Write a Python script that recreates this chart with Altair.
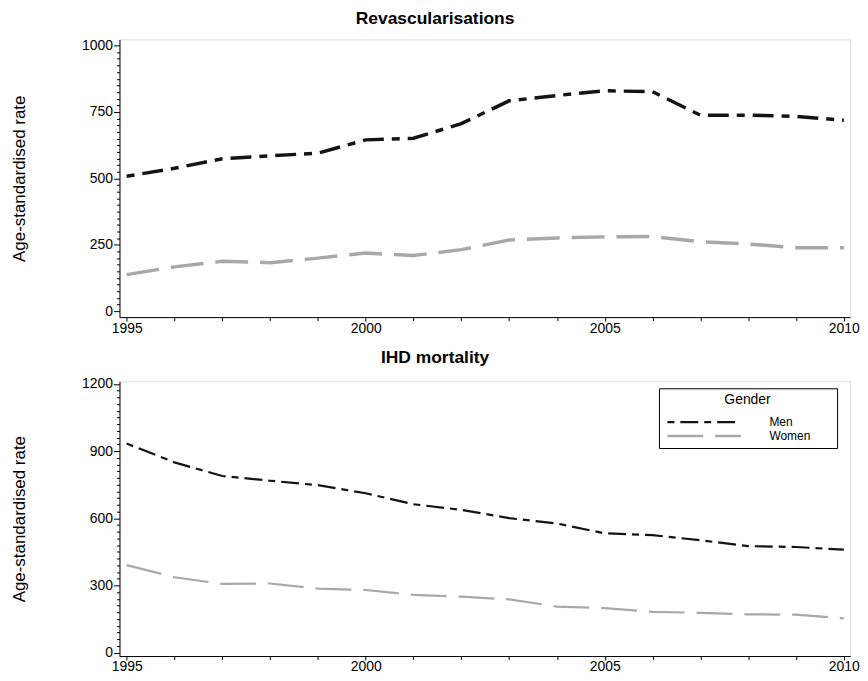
import altair as alt
import pandas as pd

years = list(range(1995, 2011))
rev_men = [508, 538, 574, 585, 595, 645, 651, 706, 792, 812, 830, 826, 738, 738, 733, 719]
rev_women = [138, 167, 188, 183, 200, 219, 210, 232, 268, 276, 280, 281, 262, 253, 239, 239]
ihd_men = [934, 850, 789, 768, 748, 712, 663, 638, 601, 577, 533, 525, 502, 476, 472, 460]
ihd_women = [391, 337, 307, 309, 286, 280, 258, 250, 238, 206, 199, 182, 178, 171, 170, 153]
# legend labels (blank padding widens the legend box like the original)
genders = ["\u00a0\u00a0Men", "Women\u00a0\u2800\u2800"]

FONT = "Liberation Sans"

def long_df(men, women):
    rows = []
    for y, m, w in zip(years, men, women):
        rows.append({"Year": y, "Rate": m, "Gender": genders[0]})
        rows.append({"Year": y, "Rate": w, "Gender": genders[1]})
    return pd.DataFrame(rows)

df_rev = long_df(rev_men, rev_women)
df_ihd = long_df(ihd_men, ihd_women)

x_axis = alt.Axis(
    values=years,
    labelExpr="datum.value % 5 == 0 ? datum.value : ''",
    tickSize={"condition": {"test": "datum.value % 5 === 0", "value": 4}, "value": 3.5},
    labelFlush=False, labelOverlap=False, grid=False,
    labelFont=FONT, labelFontSize=14, labelColor="black", labelPadding=0,
    domainColor="black", tickColor="black", title=None,
)

def y_axis(step, major, maxv):
    return alt.Axis(
        values=list(range(0, maxv + 1, step)),
        labelExpr=f"datum.value % {major} == 0 ? datum.value : ''",
        tickSize={"condition": {"test": f"datum.value % {major} === 0", "value": 6}, "value": 3},
        labelOverlap=False, grid=False,
        labelFont=FONT, labelFontSize=14, labelColor="black", labelPadding=1,
        domainColor="black", tickColor="black",
        title="Age-standardised rate", titleFont=FONT, titleFontSize=17,
        titleFontWeight="normal", titleColor="black", titlePadding=53,
    )

def panel(df, title, ydom, step, major, maxv, dashes, sw, legend, h):
    return alt.Chart(df, title=alt.Title(
        title, font=FONT, fontSize=17.5, fontWeight="bold", color="black",
        anchor="middle", frame="bounds", offset=11,
    )).mark_line(strokeWidth=sw, strokeCap="butt", strokeJoin="miter").encode(
        x=alt.X("Year:Q", scale=alt.Scale(domain=[1994.85, 2010.13], nice=False, zero=False), axis=x_axis),
        y=alt.Y("Rate:Q", scale=alt.Scale(domain=ydom, nice=False, zero=False), axis=y_axis(step, major, maxv)),
        color=alt.Color("Gender:N", scale=alt.Scale(domain=genders, range=["#141414", "#a8a8a8"]), legend=legend),
        strokeDash=alt.StrokeDash("Gender:N", scale=alt.Scale(domain=genders, range=dashes), legend=legend),
    ).properties(width=734, height=h)

leg = alt.Legend(
    title="Gender", orient="none", legendX=542, legendY=7, direction="vertical",
    symbolType="stroke", symbolSize=5476, symbolStrokeWidth=2.5, clipHeight=14,
    labelAlign="left", labelOffset=27, labelFont=FONT, labelFontSize=12, labelColor="black",
    titleFont=FONT, titleFontSize=14, titleFontWeight="normal", titleColor="black",
    titleAnchor="middle", titlePadding=8, padding=5, strokeColor="black", fillColor="white",
    cornerRadius=0, rowPadding=0, symbolOffset=2, labelLimit=300,
)

top = panel(df_rev, "Revascularisations", [-22, 1023], 25, 250, 1000,
            [[8, 8, 21, 8], [33, 12]], 3.5, None, 279)
bottom = panel(df_ihd, "IHD mortality", [-15, 1212], 30, 300, 1200,
               [[7, 6, 18, 6], [36, 12]], 2.2, leg, 276)

chart = alt.vconcat(top, bottom, spacing=11.5).resolve_scale(
    x="independent", y="independent", color="independent", strokeDash="independent"
).resolve_legend(color="independent", strokeDash="independent").properties(
    padding={"left": 2, "top": 0, "right": 0, "bottom": 0}
).configure_view(stroke="#555555", strokeWidth=1.2).configure(background="white")

chart.save("out.html", embed_options={"renderer": "svg", "actions": False})
